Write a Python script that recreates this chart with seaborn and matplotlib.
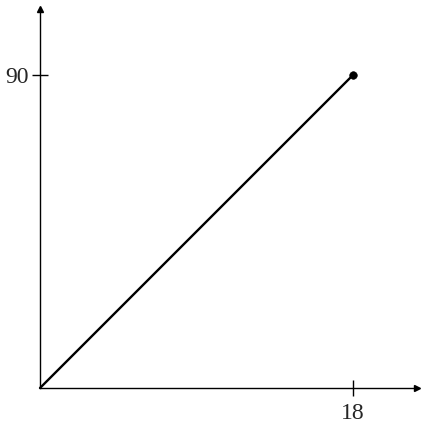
import matplotlib
matplotlib.use("Agg")
import matplotlib.pyplot as plt
import seaborn as sns
import pandas as pd

x_vals = [0, 18]
y_vals = [0, 90]
x_ticks = [18]
y_ticks = [90]

df = pd.DataFrame({"x": x_vals, "y": y_vals})

sns.set_style("white")
plt.rcParams["font.family"] = ["Liberation Serif", "DejaVu Serif"]

fig = plt.figure(figsize=(4.28, 4.28), dpi=100)
ax = fig.add_axes([0, 0, 1, 1])

sns.lineplot(data=df, x="x", y="y", color="black", linewidth=1.7, ax=ax)
sns.scatterplot(data=df.iloc[[-1]], x="x", y="y", color="black", s=30,
                edgecolor="black", ax=ax, zorder=5)

ax.set_xlim(-2.3, 22.31)
ax.set_ylim(-11.5, 111.56)

for s in ["top", "right"]:
    ax.spines[s].set_visible(False)
ax.spines["left"].set_position(("data", 0))
ax.spines["bottom"].set_position(("data", 0))
ax.spines["left"].set_bounds(0, 109)
ax.spines["bottom"].set_bounds(0, 21.7)
for s in ["left", "bottom"]:
    ax.spines[s].set_color("black")
    ax.spines[s].set_linewidth(1.0)

# arrow heads at the axis ends
ax.plot(21.7, 0, ">", color="black", markersize=5, clip_on=False)
ax.plot(0, 109, "^", color="black", markersize=5, clip_on=False)

ax.set_xticks(x_ticks)
ax.set_yticks(y_ticks)
ax.set_xticklabels([str(t) for t in x_ticks])
ax.set_yticklabels([str(t) for t in y_ticks])
ax.tick_params(direction="inout", length=12, width=1.0, color="black",
               labelsize=17, bottom=True, left=True)
ax.tick_params(axis="x", pad=5)
ax.tick_params(axis="y", pad=2)
ax.set_xlabel("")
ax.set_ylabel("")

fig.savefig("out.png", dpi=100)
